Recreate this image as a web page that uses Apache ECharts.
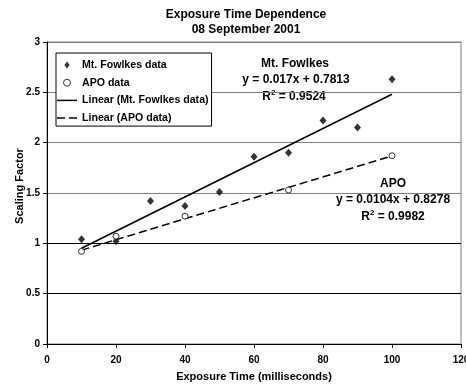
<!DOCTYPE html>
<html>
<head>
<meta charset="utf-8">
<script src="https://cdn.jsdelivr.net/npm/echarts@6/dist/echarts.min.js"></script>
<style>
  html, body { margin: 0; padding: 0; background: #fff; }
  #chart { width: 466px; height: 385px; }
</style>
</head>
<body>
<div id="chart"></div>
<script>
// values
const fowlkesX = [10, 20, 30, 40, 50, 60, 70, 80, 90, 100];
const fowlkesY = [1.04, 1.02, 1.42, 1.37, 1.51, 1.86, 1.90, 2.22, 2.15, 2.63];
const apoX = [10, 20, 40, 70, 100];
const apoY = [0.92, 1.07, 1.27, 1.53, 1.87];
// trend line end points (as drawn)
const fowlkesFit = [[10, 0.951], [100, 2.481]];
const apoFit = [[10, 0.932], [100, 1.868]];

const FONT = "'Liberation Sans', Arial, sans-serif";

const chart = echarts.init(document.getElementById("chart"), null, { renderer: "canvas" });

const pairs = (xs, ys) => xs.map((x, i) => [x, ys[i]]);

const gray = "#808080";
const blackItem = { color: "#000", borderWidth: 0 };

const options = {
  animation: false,
  textStyle: { fontFamily: FONT, fontWeight: "bold", color: "#000" },
  grid: {
    left: 47, right: 5, top: 42, bottom: 41,
    outerBoundsMode: "none",
    show: true, borderColor: gray, borderWidth: 1,
  },
  legend: {
    orient: "vertical",
    left: 56, top: 53,
    padding: [6.5, 3, 2.5, 1],
    itemWidth: 20, itemHeight: 7, itemGap: 6.7,
    backgroundColor: "#fff",
    borderColor: "#000", borderWidth: 1, borderRadius: 0,
    textStyle: { fontFamily: FONT, fontWeight: "bold", fontSize: 10.6, lineHeight: 11, color: "#000" },
    data: [
      { name: "Mt. Fowlkes data", icon: "path://M3,0L6,4L3,8L0,4Z", itemStyle: blackItem },
      { name: "APO data", icon: "circle", itemStyle: { color: "#fff", borderColor: "#000", borderWidth: 1 } },
      { name: "Linear (Mt. Fowlkes data)", icon: "path://M0,0H20V1.5H0Z", itemStyle: blackItem },
      { name: "Linear (APO data)", icon: "path://M0,0H8V1.5H0Z M12,0H20V1.5H12Z", itemStyle: blackItem },
    ],
    z: 10,
  },
  xAxis: {
    type: "value", min: 0, max: 120, interval: 20,
    name: "Exposure Time (milliseconds)",
    nameLocation: "middle", nameGap: 27,
    nameTextStyle: { fontFamily: FONT, fontWeight: "bold", fontSize: 11, color: "#000" },
    axisLine: { lineStyle: { color: "#000", width: 1 } },
    axisTick: { show: true, inside: false, length: 4, lineStyle: { color: "#000" } },
    axisLabel: { fontFamily: FONT, fontWeight: "bold", fontSize: 10, color: "#000", margin: 11 },
    splitLine: { show: false },
  },
  yAxis: {
    type: "value", min: 0, max: 3, interval: 0.5,
    name: "Scaling Factor",
    nameLocation: "middle", nameGap: 22, nameMoveOverlap: false,
    nameTextStyle: { fontFamily: FONT, fontWeight: "bold", fontSize: 11, color: "#000", padding: [0, 0, 0, 14] },
    axisLine: { show: true, lineStyle: { color: "#000", width: 1 } },
    axisTick: { show: true, inside: false, length: 4, lineStyle: { color: "#000" } },
    axisLabel: { fontFamily: FONT, fontWeight: "bold", fontSize: 10, color: "#000", margin: 7 },
    splitLine: {
      show: true,
      lineStyle: { color: ["#000", "#000", "#000", gray, gray, gray, gray], width: 1 },
    },
  },
  series: [
    {
      name: "Mt. Fowlkes data",
      type: "scatter",
      symbol: "diamond",
      symbolSize: [7, 8],
      itemStyle: { color: "#000" },
      data: pairs(fowlkesX, fowlkesY),
      z: 5,
    },
    {
      name: "APO data",
      type: "scatter",
      symbol: "circle",
      symbolSize: 6,
      itemStyle: { color: "#fff", borderColor: "#000", borderWidth: 1 },
      data: pairs(apoX, apoY),
      z: 5,
    },
    {
      name: "Linear (Mt. Fowlkes data)",
      type: "line",
      symbol: "none",
      itemStyle: { color: "#000" },
      lineStyle: { color: "#000", width: 1.5, type: "solid" },
      data: fowlkesFit,
      z: 3,
    },
    {
      name: "Linear (APO data)",
      type: "line",
      symbol: "none",
      itemStyle: { color: "#000" },
      lineStyle: { color: "#000", width: 1.5, type: [8, 4] },
      data: apoFit,
      z: 3,
    },
  ],
  graphic: [
    { type: "text", x: 246, y: 15, style: { text: "Exposure Time Dependence", font: "bold 12px " + FONT, fill: "#000", align: "center", verticalAlign: "middle" } },
    { type: "text", x: 246, y: 30, style: { text: "08 September 2001", font: "bold 12px " + FONT, fill: "#000", align: "center", verticalAlign: "middle" } },
    { type: "text", x: 295, y: 64, style: { text: "Mt. Fowlkes", font: "bold 12px " + FONT, fill: "#000", align: "center", verticalAlign: "middle" } },
    { type: "text", x: 296, y: 80, style: { text: "y = 0.017x + 0.7813", font: "bold 12px " + FONT, fill: "#000", align: "center", verticalAlign: "middle" } },
    {
      type: "text", x: 294, y: 97,
      style: {
        text: "R{s|2} = 0.9524", font: "bold 12px " + FONT, fill: "#000", align: "center", verticalAlign: "middle",
        rich: { s: { font: "bold 8px " + FONT, fill: "#000", verticalAlign: "top", padding: [0, 0, 8, 0] } },
      },
    },
    { type: "text", x: 393, y: 184, style: { text: "APO", font: "bold 12px " + FONT, fill: "#000", align: "center", verticalAlign: "middle" } },
    { type: "text", x: 393, y: 200, style: { text: "y = 0.0104x + 0.8278", font: "bold 12px " + FONT, fill: "#000", align: "center", verticalAlign: "middle" } },
    {
      type: "text", x: 393, y: 217,
      style: {
        text: "R{s|2} = 0.9982", font: "bold 12px " + FONT, fill: "#000", align: "center", verticalAlign: "middle",
        rich: { s: { font: "bold 8px " + FONT, fill: "#000", verticalAlign: "top", padding: [0, 0, 8, 0] } },
      },
    },
  ],
};

chart.setOption(options);
</script>
</body>
</html>
